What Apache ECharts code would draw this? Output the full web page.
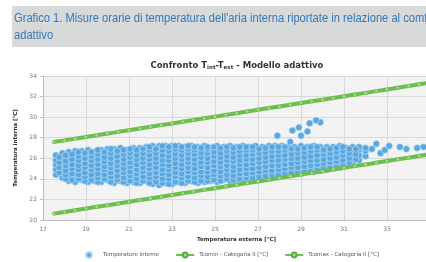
<!DOCTYPE html>
<html>
<head>
<meta charset="utf-8">
<script src="https://cdn.jsdelivr.net/npm/echarts@6/dist/echarts.min.js"></script>
<style>
html,body{margin:0;padding:0;background:#fff;}
#c{width:426px;height:262px;}
</style>
</head>
<body>
<div id="c"></div>
<script>
// ---- Data ----
const headerLine1 = "Grafico 1. Misure orarie di temperatura dell'aria interna riportate in relazione al comfort";
const headerLine2 = "adattivo";
const xTicks = [17, 19, 21, 23, 25, 27, 29, 31, 33, 35];
const yTicks = [20, 22, 24, 26, 28, 30, 32, 34];

// Comfort limits (Categoria II)
const limitExt = [17.5,18,18.5,19,19.5,20,20.5,21,21.5,22,22.5,23,23.5,24,24.5,25,25.5,26,26.5,27,27.5,28,28.5,29,29.5,30,30.5,31,31.5,32,32.5,33,33.5,34,34.5,35];
const tcomax = [27.58,27.74,27.91,28.07,28.24,28.40,28.57,28.73,28.90,29.06,29.23,29.39,29.56,29.72,29.89,30.05,30.22,30.38,30.55,30.71,30.88,31.04,31.21,31.37,31.54,31.70,31.87,32.03,32.20,32.36,32.53,32.69,32.86,33.02,33.19,33.35];
const tcomin = [20.62,20.78,20.95,21.11,21.28,21.44,21.61,21.77,21.94,22.10,22.27,22.43,22.60,22.76,22.93,23.09,23.26,23.42,23.59,23.75,23.92,24.08,24.25,24.41,24.58,24.74,24.91,25.07,25.24,25.40,25.57,25.73,25.90,26.06,26.23,26.39];

// Hourly indoor temperatures: external temperature columns and indoor values
const cloudExt = [17.6,17.9,18.2,18.5,18.8,19.1,19.4,19.7,20.0,20.3,20.6,20.9,21.2,21.5,21.8,22.1,22.4,22.7,23.0,23.3,23.6,23.9,24.2,24.5,24.8,25.1,25.4,25.7,26.0,26.3,26.6,26.9,27.2,27.5,27.8,28.1,28.4,28.7,29.0,29.3,29.6,29.9,30.2,30.5,30.8,31.1,31.4,31.7,32.0];
const cloudInt = [
 [24.4,24.9,25.4,25.8,26.3],
 [24.1,24.6,25.0,25.5,25.9,26.5],
 [23.8,24.3,24.7,25.2,25.6,26.1,26.6],
 [23.7,24.2,24.6,25.0,25.5,26.0,26.4,26.7],
 [23.9,24.4,24.8,25.3,25.7,26.2,26.7],
 [23.7,24.1,24.6,25.1,25.5,25.9,26.4,26.8],
 [23.8,24.3,24.8,25.2,25.6,26.1,26.6],
 [23.7,24.2,24.6,25.0,25.4,25.9,26.3,26.8],
 [23.9,24.4,24.8,25.3,25.8,26.2,26.7,26.9],
 [23.6,24.1,24.5,25.0,25.5,25.9,26.4,26.9],
 [23.8,24.3,24.7,25.2,25.6,26.1,26.6,27.0],
 [23.6,24.0,24.5,24.9,25.4,25.8,26.3,26.8],
 [23.7,24.2,24.7,25.1,25.6,26.0,26.5,27.0],
 [23.6,24.0,24.4,24.9,25.3,25.8,26.2,26.7,27.0],
 [23.8,24.2,24.7,25.1,25.5,26.0,26.4,26.9,27.1],
 [23.5,24.0,24.5,24.9,25.4,25.8,26.3,26.7,27.2],
 [23.4,23.8,24.3,24.8,25.2,25.7,26.1,26.6,27.0,27.2],
 [23.6,24.1,24.5,25.0,25.4,25.9,26.4,26.8,27.2],
 [23.5,23.9,24.4,24.8,25.3,25.7,26.2,26.6,27.0,27.2],
 [23.7,24.2,24.6,25.1,25.5,26.0,26.5,26.9,27.2],
 [23.6,24.0,24.4,24.9,25.4,25.8,26.3,26.7,27.1],
 [23.8,24.3,24.7,25.2,25.6,26.1,26.5,27.0,27.2],
 [23.6,24.1,24.5,25.0,25.4,25.9,26.4,26.8,27.1],
 [23.7,24.2,24.6,25.1,25.6,26.0,26.5,26.9,27.2],
 [23.8,24.3,24.8,25.2,25.7,26.1,26.6,27.0],
 [23.7,24.1,24.6,25.0,25.5,25.9,26.4,26.8,27.2],
 [23.9,24.4,24.8,25.3,25.7,26.2,26.6,27.1],
 [23.8,24.2,24.7,25.1,25.6,26.0,26.5,26.9,27.2],
 [23.9,24.4,24.9,25.3,25.8,26.2,26.7,27.1],
 [23.8,24.3,24.7,25.2,25.6,26.1,26.5,27.0,27.2],
 [24.0,24.5,24.9,25.4,25.8,26.3,26.7,27.1],
 [24.0,24.4,24.8,25.3,25.7,26.2,26.6,27.0,27.2],
 [24.1,24.6,25.0,25.5,25.9,26.4,26.8,27.1],
 [24.2,24.6,25.1,25.6,26.0,26.5,26.9,27.2],
 [24.3,24.8,25.2,25.7,26.1,26.6,27.0,27.2],
 [24.3,24.7,25.2,25.6,26.1,26.5,27.0,27.2],
 [24.4,24.9,25.3,25.8,26.2,26.7,27.1],
 [24.5,24.9,25.4,25.8,26.3,26.7,27.1],
 [24.6,25.0,25.5,25.9,26.4,26.8,27.2],
 [24.7,25.1,25.6,26.0,26.5,26.9,27.1],
 [24.7,25.2,25.7,26.1,26.6,27.0,27.2],
 [24.8,25.3,25.7,26.2,26.6,27.1],
 [24.9,25.4,25.8,26.3,26.7,27.1],
 [25.0,25.5,25.9,26.4,26.8,27.1],
 [25.1,25.6,26.0,26.5,26.9,27.2],
 [25.3,25.7,26.2,26.6,27.0],
 [25.5,25.9,26.4,26.8,27.1],
 [25.8,26.3,26.8,27.1],
 [26.2,26.7,27.0]
];
// Second, offset layer of the dense cloud (fills the gaps between columns)
const cloudExt2 = [17.75,18.05,18.35,18.65,18.95,19.25,19.55,19.85,20.15,20.45,20.75,21.05,21.35,21.65,21.95,22.25,22.55,22.85,23.15,23.45,23.75,24.05,24.35,24.65,24.95,25.25,25.55,25.85,26.15,26.45,26.75,27.05,27.35,27.65,27.95,28.25,28.55,28.85,29.15,29.45,29.75,30.05,30.35,30.65,30.95,31.25,31.55];
const cloudInt2 = [
 [24.6,25.1,25.6,26.1],
 [24.0,24.4,24.8,25.3,25.7,26.3],
 [23.9,24.5,25.0,25.4,25.9,26.4],
 [24.0,24.4,24.9,25.3,25.8,26.2,26.6],
 [23.8,24.2,24.6,25.1,25.5,26.0,26.5],
 [23.9,24.4,24.9,25.3,25.8,26.2,26.6],
 [23.7,24.1,24.5,25.0,25.4,25.9,26.4,26.8],
 [24.0,24.4,24.9,25.2,25.7,26.1,26.6],
 [23.7,24.2,24.6,25.1,25.5,26.0,26.5,26.9],
 [23.9,24.3,24.8,25.3,25.7,26.2,26.7],
 [23.7,24.1,24.6,25.0,25.5,25.9,26.4,26.8],
 [23.8,24.3,24.7,25.2,25.6,26.1,26.5,26.9],
 [23.6,24.0,24.5,24.9,25.4,25.9,26.3,26.8],
 [23.8,24.2,24.7,25.1,25.6,26.0,26.5,26.9],
 [23.6,24.1,24.5,25.0,25.4,25.9,26.3,26.8,27.1],
 [23.7,24.2,24.6,25.1,25.6,26.0,26.5,26.9],
 [23.6,24.0,24.5,24.9,25.4,25.8,26.3,26.8,27.2],
 [23.5,24.0,24.4,24.9,25.3,25.8,26.2,26.7,27.1],
 [23.7,24.2,24.6,25.1,25.5,26.0,26.4,26.9,27.2],
 [23.6,24.1,24.5,25.0,25.4,25.9,26.3,26.8,27.1],
 [23.8,24.2,24.7,25.1,25.6,26.0,26.5,26.9,27.2],
 [23.7,24.1,24.6,25.0,25.5,25.9,26.4,26.8,27.1],
 [23.8,24.3,24.7,25.2,25.6,26.1,26.5,27.0],
 [23.8,24.2,24.7,25.1,25.6,26.0,26.5,26.9,27.1],
 [23.9,24.4,24.8,25.3,25.7,26.2,26.6,27.1],
 [23.8,24.3,24.7,25.2,25.6,26.1,26.5,27.0],
 [24.0,24.4,24.9,25.3,25.8,26.2,26.7,27.1],
 [23.9,24.3,24.8,25.2,25.7,26.1,26.6,27.0],
 [24.0,24.5,24.9,25.4,25.8,26.3,26.7,27.1],
 [24.1,24.5,25.0,25.4,25.9,26.3,26.8,27.1],
 [24.1,24.6,25.0,25.5,25.9,26.4,26.8,27.1],
 [24.2,24.7,25.1,25.6,26.0,26.5,26.9],
 [24.3,24.8,25.2,25.7,26.1,26.6,27.0],
 [24.4,24.8,25.3,25.8,26.2,26.7,27.1],
 [24.4,24.9,25.3,25.8,26.3,26.7,27.1],
 [24.5,25.0,25.4,25.9,26.3,26.8,27.1],
 [24.6,25.1,25.5,26.0,26.4,26.9],
 [24.7,25.1,25.6,26.0,26.5,26.9],
 [24.8,25.2,25.7,26.1,26.6,27.0],
 [24.8,25.3,25.8,26.2,26.7,27.1],
 [24.9,25.4,25.8,26.3,26.8,27.1],
 [25.0,25.5,25.9,26.4,26.8],
 [25.1,25.6,26.0,26.5,26.9],
 [25.2,25.7,26.1,26.6,27.0],
 [25.4,25.8,26.3,26.7,27.1],
 [25.6,26.0,26.5,26.9],
 [25.9,26.4,26.9]
];
const outlierExt = [27.9,28.6,28.9,29.4,29.9,29.0,29.3,29.7,28.5,32.3,32.5,32.7,32.9,33.1,33.6,33.9,34.4,34.7];
const outlierInt = [28.2,28.7,29.0,29.4,29.5,28.2,28.6,29.7,27.6,26.9,27.4,26.5,26.8,27.2,27.1,26.9,27.0,27.1];

// ---- Build series data from the arrays ----
const interne = [];
cloudExt.forEach((x, i) => cloudInt[i].forEach(y => interne.push([x, y])));
cloudExt2.forEach((x, i) => cloudInt2[i].forEach(y => interne.push([x, y])));
outlierExt.forEach((x, i) => interne.push([x, outlierInt[i]]));
const minData = limitExt.map((x, i) => [x, tcomin[i]]);
const maxData = limitExt.map((x, i) => [x, tcomax[i]]);

const chart = echarts.init(document.getElementById('c'), null, {renderer: 'canvas'});
const axisLabelStyle = {fontSize: 6, color: '#777', fontFamily: 'DejaVu Sans'};
const greenLine = {
  type: 'line',
  symbol: 'circle',
  symbolSize: 3.5,
  lineStyle: {color: '#6cbf4e', width: 4},
  itemStyle: {color: '#a9dc8e', borderColor: '#5cae42', borderWidth: 0.5},
  z: 3,
  animation: false
};
chart.setOption({
  backgroundColor: '#ffffff',
  animation: false,
  graphic: [
    {type: 'rect', shape: {x: 12, y: 6, width: 420, height: 41}, style: {fill: '#d8d9d9'}, z: 0},
    {type: 'text', x: 14, y: 13, scaleX: 0.93, style: {text: headerLine1, fill: '#3478b8', font: '12px "Liberation Sans"'}, z: 1},
    {type: 'text', x: 14, y: 30, scaleX: 0.93, style: {text: headerLine2, fill: '#3478b8', font: '12px "Liberation Sans"'}, z: 1}
  ],
  title: {
    text: '{a|Confronto T}{s|int}{a|-T}{s|est}{a| - Modello adattivo}',
    left: 232, top: 56, textAlign: 'center',
    textStyle: {
      rich: {
        a: {fontSize: 8.5, fontWeight: 'bold', color: '#333', fontFamily: 'DejaVu Sans'},
        s: {fontSize: 5.5, fontWeight: 'bold', color: '#333', fontFamily: 'DejaVu Sans', verticalAlign: 'bottom', padding: [4, 0, 0, 0]}
      }
    }
  },
  legend: {
    left: 80, top: 246,
    itemWidth: 18, itemHeight: 6, itemGap: 16,
    textStyle: {fontSize: 5.5, color: '#555', fontFamily: 'DejaVu Sans'},
    data: ['Temperature interne', 'Tcomin - Categoria II [°C]', 'Tcomax - Categoria II [°C]']
  },
  grid: {left: 43, top: 76, width: 387, height: 144, show: true, backgroundColor: '#f3f3f3', borderWidth: 0, outerBoundsMode: 'none', containLabel: false},
  xAxis: {
    type: 'value', min: xTicks[0], max: xTicks[xTicks.length - 1], interval: 2,
    name: 'Temperatura esterna [°C]', nameLocation: 'middle', nameGap: 17,
    nameTextStyle: {fontSize: 5.5, fontWeight: 'bold', color: '#333', fontFamily: 'DejaVu Sans'},
    axisLine: {lineStyle: {color: '#bfbfbf'}},
    axisTick: {show: false},
    axisLabel: Object.assign({margin: 6}, axisLabelStyle),
    splitLine: {show: true, lineStyle: {color: '#d9d9d9', width: 1}}
  },
  yAxis: {
    type: 'value', min: yTicks[0], max: yTicks[yTicks.length - 1], interval: 2,
    name: 'Temperatura interna [°C]', nameLocation: 'middle', nameGap: 20,
    nameTextStyle: {fontSize: 5.5, fontWeight: 'bold', color: '#333', fontFamily: 'DejaVu Sans'},
    axisLine: {show: true, lineStyle: {color: '#bfbfbf'}},
    axisTick: {show: true, length: 3, lineStyle: {color: '#bfbfbf'}},
    axisLabel: Object.assign({margin: 6}, axisLabelStyle),
    splitLine: {show: true, lineStyle: {color: '#d9d9d9', width: 1}}
  },
  series: [
    {
      name: 'Temperature interne', type: 'scatter', data: interne,
      symbol: 'circle', symbolSize: 6.5,
      itemStyle: {color: '#5aa7e0', borderColor: '#b5dbf6', borderWidth: 0.7, opacity: 1},
      z: 2
    },
    Object.assign({name: 'Tcomin - Categoria II [°C]', data: minData}, greenLine),
    Object.assign({name: 'Tcomax - Categoria II [°C]', data: maxData}, greenLine)
  ]
});
</script>
</body>
</html>
